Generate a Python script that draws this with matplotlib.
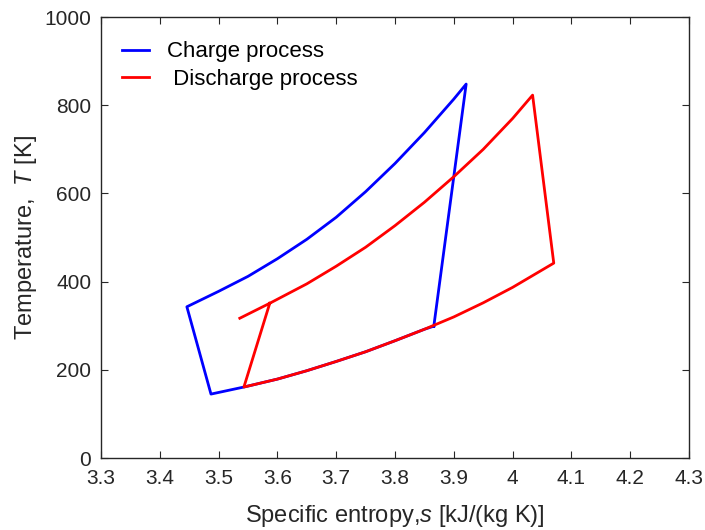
import numpy as np
import matplotlib
matplotlib.use('Agg')
import matplotlib.pyplot as plt

plt.rcParams['font.family'] = ['Liberation Sans', 'DejaVu Sans']
plt.rcParams['mathtext.fontset'] = 'custom'
plt.rcParams['mathtext.rm'] = 'Liberation Sans'
plt.rcParams['mathtext.it'] = 'Liberation Sans:italic'

# charge cycle (s in kJ/(kg K), T in K)
charge_s = [3.866, 3.921, 3.90, 3.85, 3.80, 3.75, 3.70, 3.65, 3.60, 3.55, 3.50, 3.446,
            3.487, 3.543, 3.60, 3.65, 3.70, 3.75, 3.80, 3.85, 3.866]
charge_T = [299, 848, 814, 738, 668, 604, 546, 496, 452, 412, 378, 343,
            145, 161, 179, 198, 219, 241, 266, 292, 299]

# discharge cycle
discharge_s = [3.536, 3.587, 3.65, 3.70, 3.75, 3.80, 3.85, 3.90, 3.95, 4.00, 4.034,
               4.070, 4.00, 3.95, 3.90, 3.85, 3.80, 3.75, 3.70, 3.65, 3.60, 3.543, 3.587]
discharge_T = [317, 351, 395, 435, 478, 527, 580, 638, 700, 770, 823,
               442, 387, 352, 320, 292, 266, 241, 219, 198, 179, 161, 351]

fig = plt.figure(figsize=(7.05, 5.3), dpi=100)
ax = fig.add_axes([0.1433, 0.1358, 0.834, 0.832])

ax.plot(charge_s, charge_T, color='#0000ff', lw=2.0, label='Charge process')
ax.plot(discharge_s, discharge_T, color='#ff0000', lw=2.0, label=' Discharge process')

ax.set_xlim(3.3, 4.3)
ax.set_ylim(0, 1000)
ax.set_xticks(np.arange(3.3, 4.31, 0.1))
ax.set_xticklabels(['3.3', '3.4', '3.5', '3.6', '3.7', '3.8', '3.9', '4', '4.1', '4.2', '4.3'])
ax.set_yticks([0, 200, 400, 600, 800, 1000])
ax.tick_params(direction='in', top=True, right=True, labelsize=15, length=5,
               color='#262626', labelcolor='#262626')
ax.tick_params(axis='x', pad=8)
ax.tick_params(axis='y', pad=7)
for sp in ax.spines.values():
    sp.set_color('#262626')
    sp.set_linewidth(1.0)

ax.set_xlabel(r'Specific entropy,$\mathit{s}$ [kJ/(kg K)]', fontsize=17,
              color='#262626', labelpad=11)
ax.set_ylabel(r'Temperature,  $\mathit{T}$ [K]', fontsize=17,
              color='#262626', labelpad=4)

ax.legend(loc='upper left', bbox_to_anchor=(0.02, 0.965), frameon=False, fontsize=16,
          handlelength=1.25, borderaxespad=0, labelspacing=0.3, handletextpad=0.8)

fig.savefig('out.png', dpi=100)
